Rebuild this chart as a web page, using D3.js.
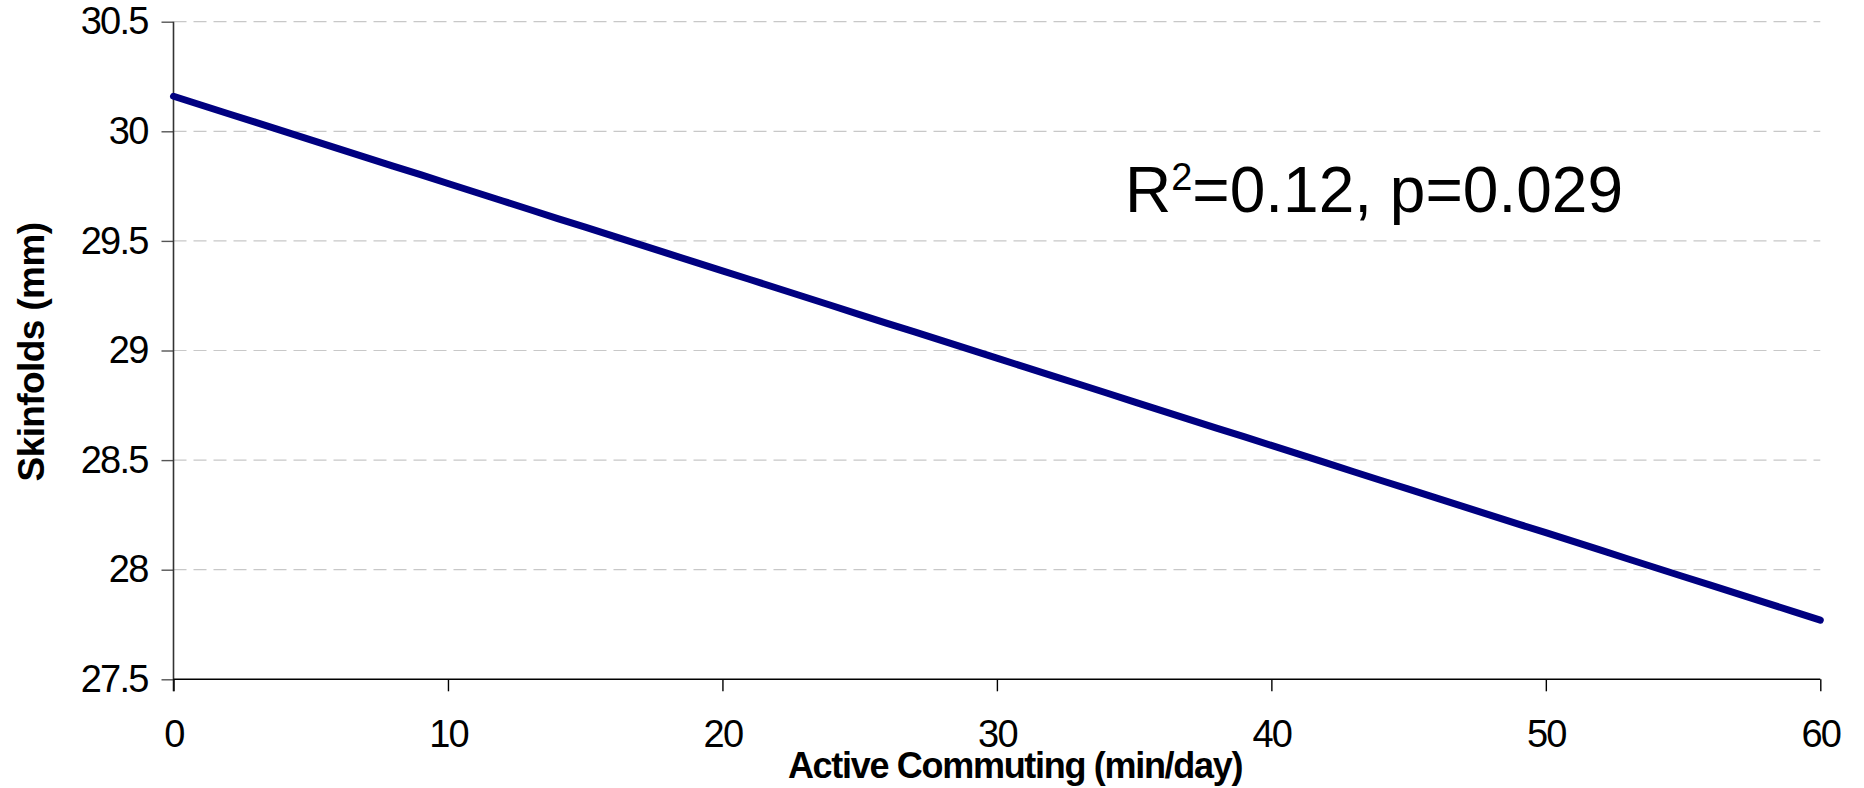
<!DOCTYPE html>
<html>
<head>
<meta charset="utf-8">
<script src="https://cdn.jsdelivr.net/npm/d3@7/dist/d3.min.js"></script>
<style>
  html, body { margin: 0; padding: 0; background: #fff; }
  svg { display: block; }
  .tick text { font-family: "Liberation Sans", Arial, sans-serif; }
</style>
</head>
<body>
<svg id="chart" width="1864" height="788"></svg>
<script>
// Fitted regression line: skinfold thickness by minutes of active commuting
const minutes = d3.range(0, 61);
const skinfolds = [
  30.160, 30.120, 30.080, 30.041, 30.001, 29.961, 29.921, 29.881, 29.841, 29.802,
  29.762, 29.722, 29.682, 29.642, 29.602, 29.563, 29.523, 29.483, 29.443, 29.403,
  29.363, 29.324, 29.284, 29.244, 29.204, 29.164, 29.124, 29.085, 29.045, 29.005,
  28.965, 28.925, 28.885, 28.846, 28.806, 28.766, 28.726, 28.686, 28.646, 28.607,
  28.567, 28.527, 28.487, 28.447, 28.407, 28.368, 28.328, 28.288, 28.248, 28.208,
  28.169, 28.129, 28.089, 28.049, 28.009, 27.969, 27.930, 27.890, 27.850, 27.810,
  27.770
];
const xTicks = [0, 10, 20, 30, 40, 50, 60];
const yTicks = [27.5, 28, 28.5, 29, 29.5, 30, 30.5];
const xTitle = "Active Commuting (min/day)";
const yTitle = "Skinfolds (mm)";
const statLabel = { r2: "0.12", p: "0.029" };

const W = 1864, H = 788;
const margin = { top: 21.7, right: 43.7, bottom: 108.7, left: 173.5 };
const iw = W - margin.left - margin.right;
const ih = H - margin.top - margin.bottom;

const svg = d3.select("#chart");
const g = svg.append("g").attr("transform", `translate(${margin.left},${margin.top})`);

const x = d3.scaleLinear().domain([0, 60]).range([0, iw]);
const y = d3.scaleLinear().domain([27.5, 30.5]).range([ih, 0]);

// dashed horizontal gridlines
g.append("g")
  .selectAll("line")
  .data(yTicks.filter(d => d > 27.5))
  .join("line")
  .attr("x1", 0).attr("x2", iw)
  .attr("y1", d => y(d)).attr("y2", d => y(d))
  .attr("stroke", "#c8c8c8")
  .attr("stroke-width", 1.2)
  .attr("stroke-dasharray", "13,7");

// y axis
const yAxis = g.append("g")
  .call(d3.axisLeft(y).tickValues(yTicks).tickSize(12).tickPadding(14).tickFormat(d3.format("")));
yAxis.select(".domain").remove();
yAxis.selectAll(".tick line").attr("stroke", "#555").attr("stroke-width", 1.4);
yAxis.selectAll(".tick text")
  .attr("font-size", 38)
  .attr("letter-spacing", -1.8)
  .attr("fill", "#000");
g.append("line")
  .attr("x1", 0).attr("x2", 0)
  .attr("y1", 0).attr("y2", ih + 12)
  .attr("stroke", "#333").attr("stroke-width", 1.6);

// x axis
const xAxis = g.append("g")
  .attr("transform", `translate(0,${ih})`)
  .call(d3.axisBottom(x).tickValues(xTicks).tickSize(12).tickPadding(29).tickFormat(d3.format("d")));
xAxis.select(".domain").attr("stroke", "#000").attr("stroke-width", 1.6).attr("d", `M0,0H${iw}`);
xAxis.selectAll(".tick line").attr("stroke", "#000").attr("stroke-width", 1.4);
xAxis.selectAll(".tick text")
  .attr("font-size", 38)
  .attr("letter-spacing", -1.8)
  .attr("fill", "#000");

// regression line
const line = d3.line()
  .x((d, i) => x(minutes[i]))
  .y(d => y(d));
g.append("path")
  .datum(skinfolds)
  .attr("d", line)
  .attr("fill", "none")
  .attr("stroke", "#000080")
  .attr("stroke-width", 7)
  .attr("stroke-linecap", "round")
  .attr("stroke-linejoin", "round");

// axis titles
svg.append("text")
  .attr("x", 1015)
  .attr("y", 778)
  .attr("text-anchor", "middle")
  .attr("font-family", "Liberation Sans, Arial, sans-serif")
  .attr("font-weight", "bold")
  .attr("font-size", 36)
  .attr("letter-spacing", -1.3)
  .text(xTitle);

svg.append("text")
  .attr("transform", "translate(44,352) rotate(-90)")
  .attr("text-anchor", "middle")
  .attr("font-family", "Liberation Sans, Arial, sans-serif")
  .attr("font-weight", "bold")
  .attr("font-size", 37)
  .attr("letter-spacing", -0.6)
  .text(yTitle);

// fit statistics
const stat = svg.append("text")
  .attr("x", 1125)
  .attr("y", 212)
  .attr("font-family", "Liberation Sans, Arial, sans-serif")
  .attr("font-size", 64)
  .attr("fill", "#000");
stat.append("tspan").text("R");
stat.append("tspan").attr("font-size", 38).attr("dy", -22).text("2");
stat.append("tspan").attr("dy", 22).text(`=${statLabel.r2}, p=${statLabel.p}`);
</script>
</body>
</html>
